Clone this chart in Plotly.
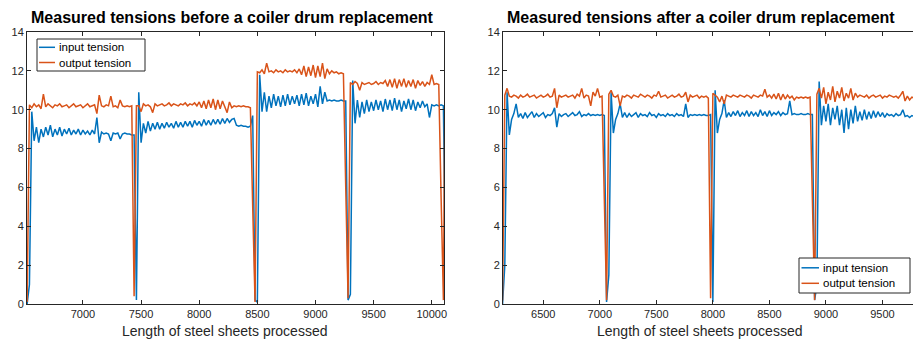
import plotly.graph_objects as go

# ---------------- data (sampled every 20 length units) ----------------
STEP = 20
X0_BEFORE = 6500
input_before = [
    0.0, 0.0, 1.0, 9.9, 8.4,          # 6500
    9.1, 8.3, 9.0, 8.6, 9.1,          # 6600
    8.7, 9.2, 8.6, 9.0, 8.7,          # 6700
    9.1, 8.65, 9.0, 8.75, 9.05,       # 6800
    8.7, 8.95, 8.75, 9.0, 8.7,        # 6900
    8.95, 8.75, 8.9, 8.7, 8.95,       # 7000
    8.75, 9.6, 8.3, 8.85, 8.75,       # 7100
    8.8, 8.75, 8.4, 8.8, 8.75,        # 7200
    8.8, 8.5, 8.75, 8.8, 8.75,        # 7300
    8.75, 8.7, 8.7, 0.2, 10.9,        # 7400
    8.3, 9.3, 8.8, 9.4, 8.9,          # 7500
    9.3, 9.0, 9.35, 9.0, 9.3,         # 7600
    9.05, 9.35, 9.1, 9.3, 9.05,       # 7700
    9.4, 9.1, 9.35, 9.1, 9.4,         # 7800
    9.15, 9.4, 9.1, 9.45, 9.2,        # 7900
    9.4, 9.15, 9.5, 9.2, 9.45,        # 8000
    9.2, 9.5, 9.25, 9.5, 9.25,        # 8100
    9.55, 9.3, 9.55, 9.35, 9.5,       # 8200
    9.55, 9.2, 9.15, 9.2, 9.15,       # 8300
    9.15, 9.1, 9.15, 9.7, 0.2,        # 8400
    0.1, 11.8, 9.9, 10.9, 9.9,        # 8500
    10.7, 10.1, 10.8, 10.2, 10.7,     # 8600
    10.15, 10.75, 10.2, 10.8, 10.25,  # 8700
    10.7, 10.3, 10.75, 10.2, 10.8,    # 8800
    10.25, 10.85, 10.2, 10.7, 10.3,   # 8900
    10.8, 10.15, 11.2, 10.3, 10.9,    # 9000
    10.45, 10.5, 10.45, 10.5, 10.45,  # 9100
    10.45, 10.5, 10.45, 10.45, 0.2,   # 9200
    0.5, 11.5, 9.3, 10.5, 9.6,        # 9300
    10.4, 9.8, 10.5, 9.9, 10.4,       # 9400
    9.95, 10.5, 10.0, 10.45, 9.9,     # 9500
    10.55, 10.0, 10.5, 9.95, 10.6,    # 9600
    10.0, 10.5, 9.9, 10.45, 10.05,    # 9700
    10.55, 10.0, 10.5, 9.95, 10.4,    # 9800
    10.1, 10.45, 10.15, 10.3, 9.6,    # 9900
    10.25, 10.2, 10.25, 10.2, 10.25,  # 10000
    10.2, 0.0,                        # 10100
]
output_before = [
    2.2, 0.1, 10.25, 10.1, 10.3,      # 6500
    10.15, 10.25, 10.05, 10.8, 10.15, # 6600
    10.3, 10.2, 10.1, 10.25, 10.2,    # 6700
    10.3, 10.15, 10.2, 10.25, 10.1,   # 6800
    10.2, 10.3, 10.15, 10.2, 10.25,   # 6900
    10.1, 10.2, 10.3, 10.15, 10.2,    # 7000
    10.25, 9.8, 10.75, 10.2, 10.15,   # 7100
    10.25, 10.2, 10.7, 10.15, 10.2,   # 7200
    10.1, 10.5, 10.2, 10.15, 10.2,    # 7300
    10.15, 10.2, 0.4, 10.2, 10.2,     # 7400
    9.9, 10.3, 10.2, 10.25, 10.15,    # 7500
    9.85, 10.3, 10.2, 10.25, 10.3,    # 7600
    10.2, 10.25, 10.35, 10.2, 10.3,   # 7700
    10.25, 10.2, 10.3, 10.25, 10.35,  # 7800
    10.2, 10.3, 10.25, 10.35, 10.2,   # 7900
    10.4, 10.1, 10.45, 10.05, 10.5,   # 8000
    10.1, 10.55, 10.0, 10.5, 10.05,   # 8100
    10.45, 10.1, 9.85, 10.4, 10.1,    # 8200
    10.2, 10.15, 10.2, 10.15, 10.2,   # 8300
    10.15, 10.15, 10.1, 5.0, 0.1,     # 8400
    11.95, 11.9, 12.05, 11.85, 12.4,  # 8500
    11.95, 12.0, 11.9, 12.05, 11.95,  # 8600
    12.0, 11.9, 12.05, 11.95, 12.0,   # 8700
    11.95, 12.05, 11.9, 12.1, 11.8,   # 8800
    12.25, 11.7, 12.2, 11.75, 12.3,   # 8900
    11.65, 12.25, 11.7, 12.4, 11.6,   # 9000
    12.1, 11.85, 12.0, 11.9, 11.95,   # 9100
    11.85, 11.9, 11.85, 6.0, 0.3,     # 9200
    11.4, 11.3, 11.45, 11.35, 11.0,   # 9300
    11.4, 11.3, 11.35, 11.4, 11.3,    # 9400
    11.35, 11.45, 11.3, 11.4, 11.35,  # 9500
    11.5, 11.2, 11.55, 11.15, 11.6,   # 9600
    11.1, 11.55, 11.2, 11.6, 11.15,   # 9700
    11.5, 11.2, 11.55, 11.1, 11.5,    # 9800
    11.25, 11.45, 11.2, 11.4, 11.3,   # 9900
    11.8, 11.3, 11.35, 11.3, 5.5,     # 10000
    0.2, 17.8,                        # 10100
]

X0_AFTER = 6100
input_after = [
    0.0, 0.0, 0.0, 2.0, 10.9,         # 6100
    8.7, 9.5, 9.8, 10.3, 9.6,         # 6200
    9.8, 9.55, 9.85, 9.6, 9.75,       # 6300
    9.9, 9.6, 9.8, 9.65, 9.75,        # 6400
    9.85, 9.6, 9.75, 9.7, 9.8,        # 6500
    10.1, 9.1, 9.8, 9.65, 9.75,       # 6600
    9.8, 9.65, 9.75, 9.85, 9.7,       # 6700
    9.75, 9.9, 9.65, 9.75, 9.7,       # 6800
    9.8, 9.7, 9.75, 9.7, 9.75,        # 6900
    9.7, 9.75, 9.7, 0.1, 1.5,         # 7000
    10.9, 8.8, 9.5, 9.8, 10.3,        # 7100
    9.6, 9.85, 9.6, 9.8, 9.65,        # 7200
    9.75, 9.85, 9.6, 9.8, 9.7,        # 7300
    9.75, 9.65, 9.85, 9.7, 9.75,      # 7400
    9.6, 9.8, 9.7, 9.75, 9.65,        # 7500
    9.8, 9.7, 9.75, 9.65, 9.8,        # 7600
    9.7, 9.75, 9.65, 10.3, 9.6,       # 7700
    9.75, 9.7, 9.75, 9.7, 9.75,       # 7800
    9.7, 9.75, 9.7, 9.7, 9.75,        # 7900
    0.1, 11.0, 8.8, 9.5, 9.8,         # 8000
    10.5, 9.6, 9.85, 9.65, 9.9,       # 8100
    9.7, 9.95, 9.65, 9.85, 9.7,       # 8200
    9.95, 9.65, 9.9, 9.7, 9.85,       # 8300
    9.65, 10.0, 9.7, 9.9, 9.65,       # 8400
    9.95, 9.7, 9.85, 9.75, 9.9,       # 8500
    9.7, 9.85, 9.75, 9.8, 10.45,      # 8600
    9.75, 9.8, 9.75, 9.75, 9.8,       # 8700
    9.75, 9.75, 9.8, 9.75, 9.75,      # 8800
    0.2, 1.0, 11.45, 9.2, 10.2,       # 8900
    9.4, 10.3, 9.2, 10.1, 9.5,        # 9000
    10.2, 9.2, 10.0, 8.8, 10.1,       # 9100
    9.0, 10.0, 9.3, 10.2, 9.4,        # 9200
    9.9, 9.45, 10.0, 9.5, 9.9,        # 9300
    9.55, 9.95, 9.6, 9.9, 9.65,       # 9400
    9.85, 9.6, 9.8, 9.7, 9.75,        # 9500
    9.65, 9.8, 9.7, 9.75, 10.0,       # 9600
    9.65, 9.7, 9.6, 9.7, 9.65,        # 9700
]
output_after = [
    0.0, 0.0, 0.2, 10.75, 11.1,       # 6100
    10.7, 10.65, 10.75, 10.7, 10.6,   # 6200
    10.75, 10.65, 10.7, 10.8, 10.65,  # 6300
    10.7, 10.75, 10.6, 10.7, 10.75,   # 6400
    10.65, 10.7, 10.8, 10.65, 10.7,   # 6500
    11.1, 10.1, 10.75, 10.65, 10.7,   # 6600
    10.75, 10.65, 10.7, 10.75, 10.6,  # 6700
    10.8, 10.7, 11.1, 10.6, 10.75,    # 6800
    10.7, 10.2, 10.9, 10.7, 11.1,     # 6900
    10.65, 10.7, 5.2, 0.2, 10.8,      # 7000
    11.0, 10.7, 10.65, 10.75, 10.2,   # 7100
    10.7, 10.65, 10.75, 10.7, 10.6,   # 7200
    10.75, 10.7, 10.65, 10.8, 10.7,   # 7300
    10.65, 10.75, 10.7, 10.6, 10.75,  # 7400
    10.7, 10.95, 10.65, 10.7, 10.75,  # 7500
    10.6, 10.7, 10.75, 10.65, 10.7,   # 7600
    10.8, 10.65, 10.7, 10.9, 10.4,    # 7700
    10.75, 10.65, 10.7, 10.75, 10.6,  # 7800
    10.7, 10.65, 10.7, 10.6, 0.3,     # 7900
    10.85, 10.75, 10.65, 10.4, 10.7,  # 8000
    10.3, 10.75, 10.7, 10.65, 10.75,  # 8100
    10.7, 10.65, 10.75, 10.7, 10.65,  # 8200
    10.75, 10.7, 10.6, 10.75, 10.7,   # 8300
    10.65, 10.75, 10.7, 11.05, 10.65, # 8400
    10.75, 10.6, 10.8, 10.55, 10.85,  # 8500
    10.5, 10.8, 10.55, 10.75, 10.6,   # 8600
    10.7, 10.5, 10.65, 10.6, 10.65,   # 8700
    10.6, 10.65, 10.6, 10.65, 5.2,    # 8800
    0.2, 10.8, 11.1, 10.6, 11.15,     # 8900
    10.3, 10.9, 10.5, 11.2, 10.4,     # 9000
    10.95, 10.6, 11.15, 10.45, 10.85, # 9100
    10.6, 11.1, 10.5, 10.85, 10.65,   # 9200
    10.75, 10.7, 10.65, 10.75, 10.6,  # 9300
    10.7, 10.75, 10.65, 10.7, 10.75,  # 9400
    10.6, 10.7, 10.65, 10.75, 10.7,   # 9500
    10.65, 10.7, 10.6, 10.75, 10.95,  # 9600
    10.45, 10.7, 10.5, 10.65, 10.6,   # 9700
]

x_ticks_before = [7000, 7500, 8000, 8500, 9000, 9500, 10000]
x_ticks_after = [6500, 7000, 7500, 8000, 8500, 9000, 9500]
y_ticks = [0, 2, 4, 6, 8, 10, 12, 14]

titles = ["Measured tensions before a coiler drum replacement",
          "Measured tensions after a coiler drum replacement"]
x_label = "Length of steel sheets processed"
series_names = ["input tension", "output tension"]

# ---------------- figure ----------------
W, H = 913, 340
BLUE = "#0072BD"
ORANGE = "#D95319"
AX = "#262626"
FONT = "Liberation Sans, Arial, Helvetica, sans-serif"


def xs(x0, values):
    return [x0 + STEP * i for i in range(len(values))]


fig = go.Figure()
for name, vals, col in [(series_names[0], input_before, BLUE),
                        (series_names[1], output_before, ORANGE)]:
    fig.add_trace(go.Scatter(x=xs(X0_BEFORE, vals), y=vals, mode="lines",
                             name=name, line=dict(color=col, width=1.5),
                             xaxis="x", yaxis="y", showlegend=False))
for name, vals, col in [(series_names[0], input_after, BLUE),
                        (series_names[1], output_after, ORANGE)]:
    fig.add_trace(go.Scatter(x=xs(X0_AFTER, vals), y=vals, mode="lines",
                             name=name, line=dict(color=col, width=1.5),
                             xaxis="x2", yaxis="y2", showlegend=False))

y_dom = [(H - 304) / H, (H - 32) / H]
common = dict(showgrid=False, zeroline=False, showline=True, linecolor=AX,
              linewidth=1, ticks="inside", ticklen=4, tickcolor=AX,
              tickwidth=1, automargin=False,
              tickfont=dict(family=FONT, size=11, color=AX))

fig.update_layout(
    width=W, height=H,
    margin=dict(l=0, r=0, t=0, b=0),
    paper_bgcolor="white", plot_bgcolor="white",
    font=dict(family=FONT, size=11, color=AX),
    showlegend=False,
    xaxis=dict(domain=[27 / W, 444 / W], range=[6519, 10105],
               tickvals=x_ticks_before,
               ticktext=[str(v) for v in x_ticks_before],
               mirror="allticks", anchor="y", **common),
    yaxis=dict(domain=y_dom, range=[0, 14], tickvals=y_ticks,
               ticktext=[str(v) for v in y_ticks],
               mirror="allticks", anchor="x", **common),
    xaxis2=dict(domain=[503 / W, 1.0], range=[6144, 9770],
                tickvals=x_ticks_after,
                ticktext=[str(v) for v in x_ticks_after],
                mirror="allticks", anchor="y2", **common),
    yaxis2=dict(domain=y_dom, range=[0, 14], tickvals=y_ticks,
                ticktext=[str(v) for v in y_ticks],
                mirror=False, anchor="x2", **common),
)


def py(v):
    """pixel row (from top) -> paper y"""
    return (H - v) / H


def px(v):
    return v / W


# titles and axis labels
texts = [
    ("<b>" + titles[0] + "</b>", 232, 17.5, 16, "black"),
    ("<b>" + titles[1] + "</b>", 701, 17.5, 16, "black"),
    (x_label, 224, 331, 14, AX),
    (x_label, 699, 331, 14, AX),
]
for t, x, y, s, c in texts:
    fig.add_annotation(text=t, xref="paper", yref="paper", x=px(x), y=py(y),
                       xanchor="center", yanchor="middle", showarrow=False,
                       font=dict(family=FONT, size=s, color=c))

# legends (MATLAB style boxes)
legends = [
    dict(box=(37, 39, 145, 71), lx=(39, 55), rows=(47.3, 62.5)),
    dict(box=(799, 258, 910, 293), lx=(801.5, 819), rows=(267.8, 283.3)),
]
for lg in legends:
    l, t, r, b = lg["box"]
    fig.add_shape(type="rect", xref="paper", yref="paper",
                  x0=px(l), x1=px(r), y0=py(b), y1=py(t),
                  line=dict(color=AX, width=1), fillcolor="white",
                  layer="above")
    for name, col, yy in zip(series_names, [BLUE, ORANGE], lg["rows"]):
        fig.add_shape(type="line", xref="paper", yref="paper",
                      x0=px(lg["lx"][0]), x1=px(lg["lx"][1]),
                      y0=py(yy), y1=py(yy),
                      line=dict(color=col, width=1.5), layer="above")
        fig.add_annotation(text=name, xref="paper", yref="paper",
                           x=px(lg["lx"][1] + 1.5), y=py(yy),
                           xanchor="left", yanchor="middle", showarrow=False,
                           font=dict(family=FONT, size=11.5, color="black"))

fig.write_html("out.html", config={"displayModeBar": False})

# remove the browser's default page margin so the figure sits at (0, 0)
with open("out.html", "r", encoding="utf-8") as f:
    html = f.read()
html = html.replace(
    "<head>",
    "<head><style>html,body{margin:0;padding:0;overflow:hidden;}</style>", 1)
with open("out.html", "w", encoding="utf-8") as f:
    f.write(html)
